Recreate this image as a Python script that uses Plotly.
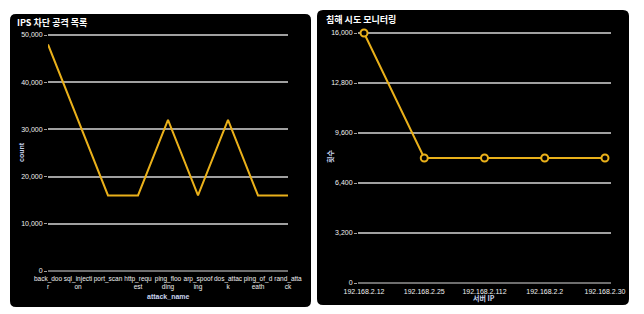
import plotly.graph_objects as go

W, H = 644, 314

attack_names = ["back_door", "sql_injection", "port_scan", "http_request", "ping_flooding",
                "arp_spoofing", "dos_attack", "ping_of_death", "rand_attack"]
attack_tick_labels = ["back_doo<br>r", "sql_injecti<br>on", "port_scan", "http_requ<br>est",
                      "ping_floo<br>ding", "arp_spoof<br>ing", "dos_attac<br>k", "ping_of_d<br>eath",
                      "rand_atta<br>ck"]
attack_counts = [48000, 32000, 16000, 16000, 32000, 16000, 32000, 16000, 16000]
left_yticks = [0, 10000, 20000, 30000, 40000, 50000]

server_ips = ["192.168.2.12", "192.168.2.25", "192.168.2.112", "192.168.2.2", "192.168.2.30"]
attempt_counts = [16000, 8000, 8000, 8000, 8000]
right_yticks = [0, 3200, 6400, 9600, 12800, 16000]

LINE = "#e9b01a"
GRID = "#a0a0a0"
ZERO = "#6e6e6e"
TICK = "#f0f0f0"
FONT = "Liberation Sans, Arial, sans-serif"
KFONT = "Noto Sans CJK KR, sans-serif"


def px(x):
    return x / W


def py(y):
    return (H - y) / H


def rounded(x0, y0, x1, y1, r=6):
    def P(x, y):
        return f"{px(x):.5f},{py(y):.5f}"
    return (f"M {P(x0 + r, y0)} L {P(x1 - r, y0)} Q {P(x1, y0)} {P(x1, y0 + r)} "
            f"L {P(x1, y1 - r)} Q {P(x1, y1)} {P(x1 - r, y1)} "
            f"L {P(x0 + r, y1)} Q {P(x0, y1)} {P(x0, y1 - r)} "
            f"L {P(x0, y0 + r)} Q {P(x0, y0)} {P(x0 + r, y0)} Z")


fig = go.Figure()

fig.add_trace(go.Scatter(x=attack_names, y=attack_counts, mode="lines",
                         line=dict(color=LINE, width=2), xaxis="x", yaxis="y",
                         showlegend=False, cliponaxis=False))
fig.add_trace(go.Scatter(x=server_ips, y=attempt_counts, mode="lines+markers",
                         line=dict(color=LINE, width=2),
                         marker=dict(size=7, color="#000000", line=dict(color=LINE, width=2)),
                         xaxis="x2", yaxis="y2", showlegend=False, cliponaxis=False))

tickfont = dict(family=FONT, size=7, color=TICK)
xtickfont = dict(family=FONT, size=6.5, color=TICK)

# left: 0 -> y=271px, 50000 -> y=35px  (4.72 px per 1000); padded range
# right: 0 -> y=283px, 16000 -> y=33px (50 px per 3200); padded range
fig.update_layout(
    template="none",
    width=W, height=H,
    margin=dict(l=0, r=0, t=0, b=0, pad=0),
    paper_bgcolor="white",
    plot_bgcolor="rgba(0,0,0,0)",
    shapes=[
        dict(type="path", path=rounded(10, 14, 311, 307), xref="paper", yref="paper",
             fillcolor="#000000", line=dict(width=0), layer="below"),
        dict(type="path", path=rounded(317, 10, 629, 305), xref="paper", yref="paper",
             fillcolor="#000000", line=dict(width=0), layer="below"),
    ],
    xaxis=dict(domain=[px(48), px(288)], anchor="y", type="category", automargin=False,
               range=[0, len(attack_names) - 1],
               tickvals=attack_names, ticktext=attack_tick_labels, tickangle=0,
               showgrid=False, zeroline=False, showline=False,
               ticks="", tickfont=xtickfont),
    yaxis=dict(domain=[py(273.36), py(32.64)], anchor="x", range=[-500, 50500], automargin=False,
               tickvals=left_yticks, tickformat=",d",
               showgrid=True, gridcolor=GRID, gridwidth=1.5,
               zeroline=True, zerolinecolor=ZERO, zerolinewidth=2, showline=False,
               ticks="outside", ticklen=3, tickcolor=GRID, tickfont=tickfont),
    xaxis2=dict(domain=[px(358), px(611)], anchor="y2", type="category", automargin=False,
                range=[-0.1, len(server_ips) - 0.9], tickangle=0,
                showgrid=False, zeroline=False, showline=False,
                ticks="", tickfont=tickfont),
    yaxis2=dict(domain=[py(285.5), py(30.5)], anchor="x2", range=[-160, 16160], automargin=False,
                tickvals=right_yticks, tickformat=",d",
                showgrid=True, gridcolor=GRID, gridwidth=1.5,
                zeroline=True, zerolinecolor=ZERO, zerolinewidth=2, showline=False,
                ticks="outside", ticklen=3, tickcolor=GRID, tickfont=tickfont),
    annotations=[
        dict(text="<b>IPS 차단 공격 목록</b>", x=px(15), y=py(23), xref="paper", yref="paper",
             xanchor="left", yanchor="middle", showarrow=False,
             font=dict(family=KFONT, size=9, color="white")),
        dict(text="<b>침해 시도 모니터링</b>", x=px(324), y=py(20), xref="paper", yref="paper",
             xanchor="left", yanchor="middle", showarrow=False,
             font=dict(family=KFONT, size=9, color="white")),
        dict(text="<b>attack_name</b>", x=px(168), y=py(296), xref="paper", yref="paper",
             xanchor="center", yanchor="middle", showarrow=False,
             font=dict(family=FONT, size=7, color="#c8d4ee")),
        dict(text="<b>count</b>", x=px(21), y=py(152), xref="paper", yref="paper",
             xanchor="center", yanchor="middle", showarrow=False, textangle=-90,
             font=dict(family=FONT, size=7, color="#c8d4ee")),
        dict(text="<b>서버 IP</b>", x=px(484), y=py(298), xref="paper", yref="paper",
             xanchor="center", yanchor="middle", showarrow=False,
             font=dict(family=KFONT, size=7, color="#c8d4ee")),
        dict(text="<b>횟수</b>", x=px(330), y=py(157), xref="paper", yref="paper",
             xanchor="center", yanchor="middle", showarrow=False, textangle=-90,
             font=dict(family=KFONT, size=7, color="#c8d4ee")),
    ],
)

fig.write_html("out.html")
